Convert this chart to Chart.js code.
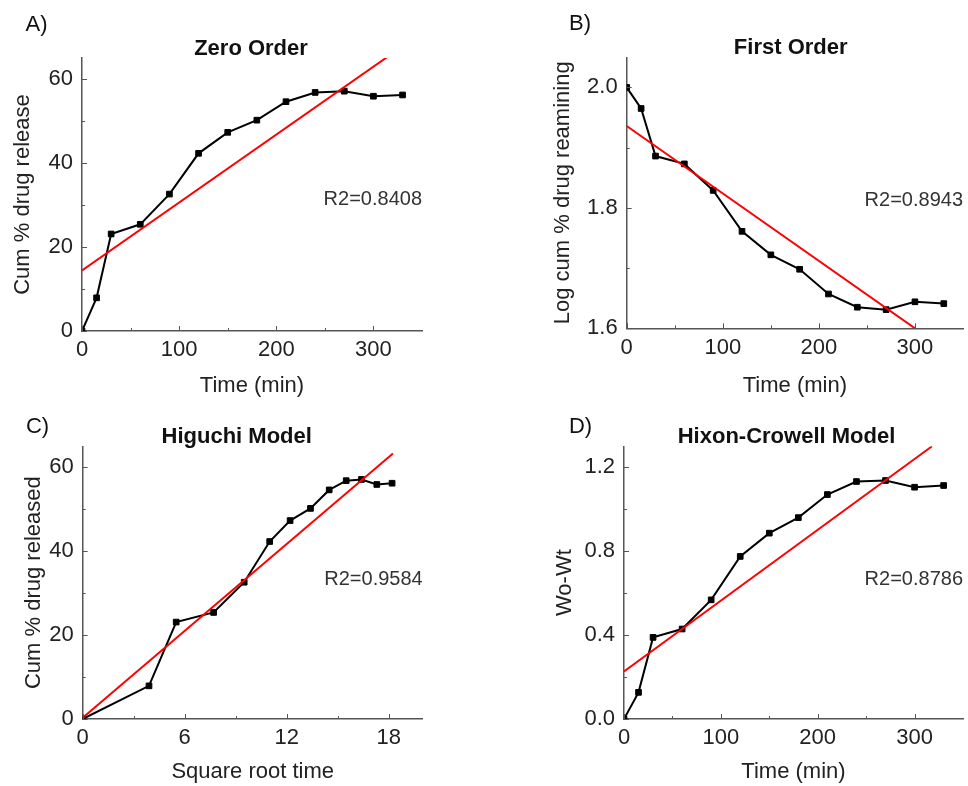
<!DOCTYPE html>
<html>
<head>
<meta charset="utf-8">
<script src="https://cdn.jsdelivr.net/npm/chart.js@4.4.1/dist/chart.umd.min.js"></script>
<style>
  html, body { margin: 0; padding: 0; background: #fff; }
  body { width: 968px; height: 786px; position: relative; overflow: hidden; }
  canvas { position: absolute; }
</style>
</head>
<body>
<canvas id="chartA" width="484" height="410" style="left:0;top:0"></canvas>
<canvas id="chartB" width="484" height="410" style="left:484px;top:0"></canvas>
<canvas id="chartC" width="484" height="393" style="left:0;top:393px"></canvas>
<canvas id="chartD" width="484" height="393" style="left:484px;top:393px"></canvas>
<script>
// sampling times (min)
const times = [0, 15, 30, 60, 90, 120, 150, 180, 210, 240, 270, 300, 330];
const sqrtTimes = [0, 3.9, 5.5, 7.7, 9.5, 11.0, 12.2, 13.4, 14.5, 15.5, 16.4, 17.3, 18.2];

// measured series
const cumRelease = [0, 7.9, 23.1, 25.4, 32.6, 42.3, 47.3, 50.2, 54.6, 56.8, 57.1, 55.9, 56.2];
const logRemaining = [2.0, 1.965, 1.886, 1.873, 1.829, 1.761, 1.722, 1.698, 1.657, 1.635, 1.631, 1.644, 1.641];
const woWt = [0, 0.127, 0.389, 0.429, 0.568, 0.775, 0.886, 0.960, 1.070, 1.132, 1.137, 1.105, 1.113];

// fitted lines (end points)
const zeroFitX = [0, 314];
const zeroFitY = [14.4, 65.2];
const firstFitX = [0, 300];
const firstFitY = [1.936, 1.6];
const higuchiFitX = [0, 18.25];
const higuchiFitY = [0.3, 63.3];
const hixonFitX = [0, 318];
const hixonFitY = [0.227, 1.3];

// tick values
const timeTicks = [0, 100, 200, 300];
const sqrtTicks = [0, 6, 12, 18];
const releaseTicks = [0, 20, 40, 60];
const logTicks = [1.6, 1.8, 2.0];
const woWtTicks = [0, 0.4, 0.8, 1.2];

const panelLetters = ['A)', 'B)', 'C)', 'D)'];
const panelTitles = ['Zero Order', 'First Order', 'Higuchi Model', 'Hixon-Crowell Model'];
const r2Labels = ['R2=0.8408', 'R2=0.8943', 'R2=0.9584', 'R2=0.8786'];

const FONT = '"Liberation Sans", Arial, sans-serif';
Chart.defaults.font.family = FONT;
Chart.defaults.font.size = 22;
Chart.defaults.color = '#222';

// small inward ticks like the original plot
const innerTicks = {
    id: 'innerTicks',
    afterDatasetsDraw(chart) {
        const { ctx, chartArea } = chart;
        ctx.save();
        ctx.strokeStyle = '#555';
        ctx.lineWidth = 1;
        ['x', 'y'].forEach(id => {
            const scale = chart.scales[id];
            const vals = scale.ticks.map(t => t.value);
            const step = vals[1] - vals[0];
            const marks = vals.map(v => [v, 5]);
            for (let v = vals[0] + step / 2; v < scale.max - 1e-9; v += step) marks.push([v, 3]);
            marks.forEach(([v, len]) => {
                const p = Math.round(scale.getPixelForValue(v)) + 0.5;
                ctx.beginPath();
                if (id === 'x') {
                    ctx.moveTo(p, chartArea.bottom);
                    ctx.lineTo(p, chartArea.bottom - len);
                } else {
                    ctx.moveTo(chartArea.left, p);
                    ctx.lineTo(chartArea.left + len, p);
                }
                ctx.stroke();
            });
        });
        ctx.restore();
    }
};

const panelText = {
    id: 'panelText',
    afterDraw(chart, args, o) {
        const { ctx, chartArea } = chart;
        ctx.save();
        ctx.textBaseline = 'middle';
        ctx.textAlign = 'center';
        ctx.fillStyle = '#111';
        ctx.font = '22px ' + FONT;
        ctx.fillText(o.letter, o.letterX, o.letterY);
        ctx.font = 'bold 22px ' + FONT;
        ctx.fillText(o.title, o.titleX, o.titleY);
        ctx.font = '20px ' + FONT;
        ctx.fillStyle = '#333';
        ctx.textAlign = 'right';
        ctx.fillText(o.r2, chartArea.right, o.r2Y);
        ctx.restore();
    }
};

function toPoints(xs, ys) {
    return xs.map((x, i) => ({ x: x, y: ys[i] }));
}

function makePanel(canvasId, p) {
    const ctx = document.getElementById(canvasId).getContext('2d');
    return new Chart(ctx, {
        type: 'scatter',
        data: {
            datasets: [{
                data: toPoints(p.xs, p.ys),
                showLine: true,
                borderColor: '#000',
                backgroundColor: '#000',
                borderWidth: 2,
                pointStyle: 'rect',
                pointRadius: 4,
                pointBorderWidth: 1,
                order: 1
            }, {
                data: toPoints(p.fitX, p.fitY),
                showLine: true,
                borderColor: '#ff0000',
                borderWidth: 2,
                pointRadius: 0,
                order: 0
            }]
        },
        plugins: [innerTicks, panelText],
        options: {
            responsive: false,
            animation: false,
            events: [],
            layout: { padding: p.pad },
            scales: {
                x: {
                    type: 'linear',
                    min: p.xMin,
                    max: p.xMax,
                    afterBuildTicks: s => { s.ticks = p.xTicks.map(v => ({ value: v })); },
                    afterFit: s => { s.height = p.xAxisH; },
                    grid: { display: false, drawTicks: false },
                    border: { display: true, color: '#555', width: 1.5 },
                    ticks: {
                        padding: 6,
                        autoSkip: false,
                        maxRotation: 0,
                        color: '#222',
                        callback: v => v.toFixed(p.xDec)
                    },
                    title: { display: true, text: p.xTitle, color: '#222', padding: 0 }
                },
                y: {
                    type: 'linear',
                    min: p.yMin,
                    max: p.yMax,
                    afterBuildTicks: s => { s.ticks = p.yTicks.map(v => ({ value: v })); },
                    afterFit: s => { s.width = p.yAxisW; },
                    grid: { display: false, drawTicks: false },
                    border: { display: true, color: '#555', width: 1.5 },
                    ticks: {
                        padding: 9,
                        autoSkip: false,
                        color: '#222',
                        callback: v => v.toFixed(p.yDec)
                    },
                    title: { display: true, text: p.yTitle, color: '#222', padding: 0 }
                }
            },
            plugins: {
                legend: { display: false },
                title: { display: false },
                tooltip: { enabled: false },
                panelText: p.text
            }
        }
    });
}

makePanel('chartA', {
    xs: times, ys: cumRelease, fitX: zeroFitX, fitY: zeroFitY,
    xMin: 0, xMax: 350, yMin: 0, yMax: 65,
    xTicks: timeTicks, yTicks: releaseTicks, xDec: 0, yDec: 0,
    xTitle: 'Time (min)', yTitle: 'Cum % drug release',
    pad: { left: 10, right: 62, top: 58, bottom: 10.8 }, yAxisW: 72, xAxisH: 68.2,
    text: { letter: panelLetters[0], letterX: 36.5, letterY: 25, title: panelTitles[0], titleX: 251, titleY: 48.5, r2: r2Labels[0], r2Y: 199 }
});

makePanel('chartB', {
    xs: times, ys: logRemaining, fitX: firstFitX, fitY: firstFitY,
    xMin: 0, xMax: 350, yMin: 1.6, yMax: 2.05,
    xTicks: timeTicks, yTicks: logTicks, xDec: 0, yDec: 1,
    xTitle: 'Time (min)', yTitle: 'Log cum % drug reamining',
    pad: { left: 66, right: 2.3, top: 57.3, bottom: 10.8 }, yAxisW: 76.7, xAxisH: 70.9,
    text: { letter: panelLetters[1], letterX: 96, letterY: 23.5, title: panelTitles[1], titleX: 306.7, titleY: 47.5, r2: r2Labels[1], r2Y: 200 }
});

makePanel('chartC', {
    xs: sqrtTimes, ys: cumRelease, fitX: higuchiFitX, fitY: higuchiFitY,
    xMin: 0, xMax: 20, yMin: 0, yMax: 65,
    xTicks: sqrtTicks, yTicks: releaseTicks, xDec: 0, yDec: 0,
    xTitle: 'Square root time', yTitle: 'Cum % drug released',
    pad: { left: 21, right: 61.3, top: 53.3, bottom: 0.8 }, yAxisW: 61.7, xAxisH: 66.2,
    text: { letter: panelLetters[2], letterX: 37.5, letterY: 34, title: panelTitles[2], titleX: 236.7, titleY: 43.5, r2: r2Labels[2], r2Y: 186.5 }
});

makePanel('chartD', {
    xs: times, ys: woWt, fitX: hixonFitX, fitY: hixonFitY,
    xMin: 0, xMax: 350, yMin: 0, yMax: 1.3,
    xTicks: timeTicks, yTicks: woWtTicks, xDec: 0, yDec: 1,
    xTitle: 'Time (min)', yTitle: 'Wo-Wt',
    pad: { left: 68, right: 4, top: 53.3, bottom: 0.8 }, yAxisW: 72, xAxisH: 66.2,
    text: { letter: panelLetters[3], letterX: 96.5, letterY: 34, title: panelTitles[3], titleX: 302.5, titleY: 43.5, r2: r2Labels[3], r2Y: 186 }
});
</script>
</body>
</html>
